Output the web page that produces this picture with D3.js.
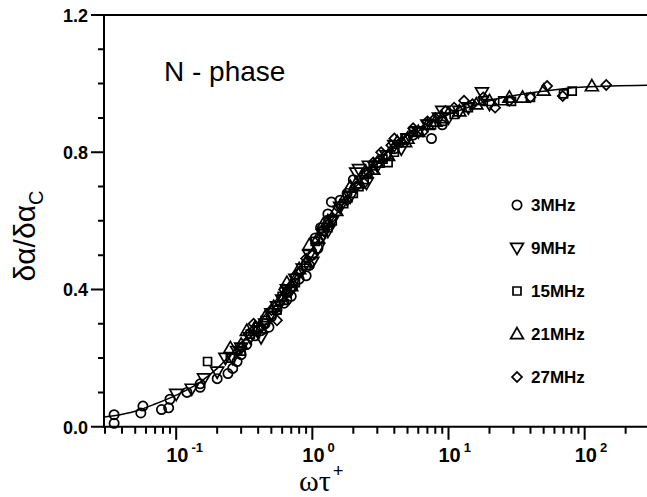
<!DOCTYPE html>
<html>
<head>
<meta charset="utf-8">
<script src="https://cdn.jsdelivr.net/npm/d3@7"></script>
<style>
  body { margin: 0; background: #fff; }
  svg { display: block; }
</style>
</head>
<body>
<svg id="chart" width="647" height="497"></svg>
<script>
// fitted curve
const curveX = [0.0295, 0.035, 0.05, 0.07, 0.1, 0.15, 0.2, 0.3, 0.4, 0.5, 0.7, 1.0, 1.5, 2.0, 3.0, 5.0, 8.0, 10, 20, 50, 100, 287];
const curveY = [0.028, 0.032, 0.045, 0.066, 0.092, 0.13, 0.17, 0.245, 0.30, 0.35, 0.43, 0.52, 0.62, 0.69, 0.77, 0.85, 0.895, 0.91, 0.95, 0.978, 0.99, 0.995];

// measured points [omega*tau, ratio]
const mhz3 = [[0.035, 0.01], [0.035, 0.035], [0.055, 0.04], [0.057, 0.06], [0.078, 0.05], [0.088, 0.055], [0.09, 0.08],
  [0.12, 0.1], [0.15, 0.115], [0.15, 0.125], [0.2, 0.14], [0.24, 0.155], [0.28, 0.19], [0.3, 0.21], [0.33, 0.24],
  [0.38, 0.265], [0.42, 0.28], [0.48, 0.29], [0.5, 0.32], [0.55, 0.34], [0.62, 0.36], [0.7, 0.38], [0.72, 0.41],
  [0.8, 0.43], [0.9, 0.44], [0.95, 0.47], [1.0, 0.5], [1.05, 0.55], [1.15, 0.58], [1.3, 0.62], [1.38, 0.655],
  [1.6, 0.66], [2.0, 0.72], [2.5, 0.74], [3.0, 0.77], [4.0, 0.81], [5.5, 0.85], [7.5, 0.84], [9.0, 0.88],
  [0.26, 0.17], [0.45, 0.3], [0.65, 0.37], [1.1, 0.52], [1.8, 0.68], [3.5, 0.79]];
const mhz9 = [[0.1, 0.095], [0.13, 0.11], [0.16, 0.14], [0.2, 0.16], [0.23, 0.2], [0.26, 0.2], [0.28, 0.22], [0.3, 0.23],
  [0.35, 0.26], [0.4, 0.28], [0.45, 0.3], [0.5, 0.33], [0.55, 0.35], [0.6, 0.37], [0.65, 0.4], [0.75, 0.43],
  [0.85, 0.46], [0.95, 0.5], [1.1, 0.52], [1.2, 0.56], [1.4, 0.6], [1.6, 0.64], [1.9, 0.67], [2.1, 0.74],
  [2.2, 0.75], [2.5, 0.71], [3.0, 0.76], [3.5, 0.79], [4.0, 0.82], [5.0, 0.84], [6.0, 0.86], [7.0, 0.88],
  [8.5, 0.9], [10, 0.9], [12, 0.92], [14, 0.93], [17.6, 0.974], [20, 0.94],
  [0.42, 0.26], [0.7, 0.4], [1.0, 0.48], [1.3, 0.57], [2.6, 0.76], [4.5, 0.81], [9, 0.92]];
const mhz15 = [[0.17, 0.19], [0.25, 0.2], [0.3, 0.22], [0.35, 0.27], [0.45, 0.31], [0.55, 0.34], [0.65, 0.39], [0.75, 0.42],
  [0.9, 0.47], [1.05, 0.54], [1.2, 0.57], [1.4, 0.6], [1.7, 0.65], [2.0, 0.68], [2.4, 0.72], [2.8, 0.76],
  [3.3, 0.78], [4.0, 0.8], [4.8, 0.84], [6.0, 0.86], [7.5, 0.88], [9.0, 0.89], [11, 0.91], [14, 0.93],
  [18, 0.95], [25, 0.95], [29, 0.948], [40, 0.96], [70, 0.97], [81, 0.978],
  [0.4, 0.29], [0.6, 0.38], [1.3, 0.58], [2.2, 0.7], [3.6, 0.77], [5.5, 0.86]];
const mhz21 = [[0.25, 0.23], [0.3, 0.24], [0.38, 0.29], [0.45, 0.32], [0.52, 0.35], [0.6, 0.37], [0.7, 0.41], [0.8, 0.46],
  [0.9, 0.48], [0.95, 0.53], [1.1, 0.55], [1.3, 0.6], [1.5, 0.63], [1.75, 0.67], [2.1, 0.71], [2.5, 0.74],
  [3.0, 0.77], [3.6, 0.79], [4.2, 0.83], [5.0, 0.84], [6.0, 0.86], [7.0, 0.88], [9.0, 0.9], [12, 0.92],
  [16, 0.94], [20, 0.95], [28, 0.96], [35, 0.96], [50, 0.98], [113, 0.993],
  [0.33, 0.28], [0.65, 0.42], [1.2, 0.59], [1.9, 0.7], [2.8, 0.75], [4.8, 0.83], [8, 0.89]];
const mhz27 = [[0.3, 0.23], [0.37, 0.3], [0.42, 0.29], [0.5, 0.34], [0.55, 0.31], [0.62, 0.4], [0.7, 0.4], [0.8, 0.45],
  [0.9, 0.49], [1.0, 0.5], [1.15, 0.55], [1.3, 0.59], [1.55, 0.64], [1.8, 0.66], [2.1, 0.7], [2.4, 0.71],
  [2.8, 0.77], [3.2, 0.8], [3.8, 0.82], [4.5, 0.83], [5.5, 0.87], [6.5, 0.86], [8.0, 0.9], [9.5, 0.92],
  [11, 0.93], [13, 0.95], [18, 0.96], [22, 0.93], [28, 0.95], [40, 0.96], [53, 0.993], [69, 0.964], [144, 0.996],
  [0.34, 0.27], [0.75, 0.44], [1.4, 0.61], [2.6, 0.74], [4.0, 0.84], [7.0, 0.89], [15, 0.94]];

const seriesNames = ['3MHz', '9MHz', '15MHz', '21MHz', '27MHz'];
const seriesData = [mhz3, mhz9, mhz15, mhz21, mhz27];
const xMajor = [0.1, 1, 10, 100];
const xMajorExp = ['-1', '0', '1', '2'];
const yMajor = [0.0, 0.4, 0.8, 1.2];

let svg = d3.select('#chart');

let x = d3.scaleLog()
  .domain([0.0295, 287])
  .range([104, 647]);

let y = d3.scaleLinear()
  .domain([0, 1.2])
  .range([426.7, 15]);

const font = 'Liberation Sans, Arial, sans-serif';

// symbol shapes
let shapes = [
  { type: d3.symbolCircle, size: 68, rot: 0 },
  { type: d3.symbolTriangle, size: 72, rot: 180 },
  { type: d3.symbolSquare, size: 64, rot: 0 },
  { type: d3.symbolTriangle, size: 72, rot: 0 },
  { type: d3.symbolSquare, size: 50, rot: 45 }
];

function drawMarker(g, i, px, py) {
  let s = shapes[i];
  let dy = (s.type === d3.symbolTriangle) ? (s.rot === 180 ? -1 : 1) : 0;
  g.append('path')
    .attr('d', d3.symbol().type(s.type).size(s.size)())
    .attr('transform', `translate(${px}, ${py + dy}) rotate(${s.rot})`)
    .attr('fill', 'none')
    .attr('stroke', '#000')
    .attr('stroke-width', 1.7);
}

function isMajor(list, d) {
  return list.some((m) => Math.abs(m - d) < 1e-9);
}

// tick values
let xTicks = d3.range(-2, 3)
  .flatMap((e) => d3.range(1, 10).map((m) => +(m * Math.pow(10, e)).toPrecision(3)))
  .filter((v) => v >= 0.0295 && v <= 287);
let yTicks = d3.range(0, 13).map((i) => i / 10);

// ticks as one path each
let y0 = y(0);
let xTickPath = xTicks.map((d) => `M${x(d)},${y0}V${y0 + (isMajor(xMajor, d) ? 13 : 7)}`).join('');
let yTickPath = yTicks.map((d) => `M${x.range()[0]},${y(d)}H${x.range()[0] - (isMajor(yMajor, d) ? 13 : 6)}`).join('');

svg.append('path')
  .attr('class', 'ticks-x')
  .attr('d', xTickPath)
  .attr('fill', 'none')
  .attr('stroke', '#000')
  .attr('stroke-width', 2);

svg.append('path')
  .attr('class', 'ticks-y')
  .attr('d', yTickPath)
  .attr('fill', 'none')
  .attr('stroke', '#000')
  .attr('stroke-width', 2);

// frame: left axis, bottom axis, top border
svg.append('path')
  .attr('d', `M647,${y(1.2)}H${x.range()[0]}V${y0}H647`)
  .attr('fill', 'none')
  .attr('stroke', '#000')
  .attr('stroke-width', 2);

// Y tick labels
svg.append('g')
  .selectAll('text')
  .data(yMajor)
  .enter().append('text')
    .attr('x', 88)
    .attr('y', (d) => y(d) + 7)
    .attr('text-anchor', 'end')
    .attr('font-family', font)
    .attr('font-weight', 'bold')
    .attr('font-size', 18)
    .text((d) => d.toFixed(1));

// X tick labels
let xLabels = svg.append('g')
  .selectAll('text')
  .data(xMajor)
  .enter().append('text')
    .attr('x', (d) => x(d) - 10)
    .attr('y', 462)
    .attr('font-family', font)
    .attr('font-weight', 'bold')
    .attr('font-size', 20);

xLabels.append('tspan').text('10');
xLabels.append('tspan')
  .attr('dx', 3)
  .attr('dy', -10)
  .attr('font-size', 13)
  .text((d, i) => xMajorExp[i]);

// axis titles
let xTitle = svg.append('text')
  .attr('x', 299)
  .attr('y', 491)
  .attr('font-family', 'Liberation Serif, Times New Roman, serif')
  .attr('font-size', 30);
xTitle.append('tspan').text('ωτ');
xTitle.append('tspan')
  .attr('dx', 2)
  .attr('dy', -14)
  .attr('font-size', 19)
  .attr('font-weight', 'bold')
  .text('+');

let yTitle = svg.append('text')
  .attr('transform', 'translate(35, 236) rotate(-90)')
  .attr('text-anchor', 'middle')
  .attr('font-family', font)
  .attr('font-size', 30);
yTitle.append('tspan').text('δα/δα');
yTitle.append('tspan')
  .attr('dy', 8)
  .attr('font-size', 20)
  .text('C');

// phase label
svg.append('text')
  .attr('x', 164)
  .attr('y', 81)
  .attr('font-family', font)
  .attr('font-size', 28)
  .text('N - phase');

// fitted curve
let line = d3.line()
  .curve(d3.curveMonotoneX)
  .x((d, i) => x(curveX[i]))
  .y((d) => y(d));

svg.append('path')
  .datum(curveY)
  .attr('fill', 'none')
  .attr('stroke', '#000')
  .attr('stroke-width', 1.5)
  .attr('d', line);

// points
let points = svg.append('g').attr('class', 'points');
seriesData.forEach((data, i) => {
  data.forEach((d) => drawMarker(points, i, x(d[0]), y(d[1])));
});

// legend
let legendY = [205, 248, 291, 334, 377];
let legend = svg.append('g').attr('class', 'legend');
seriesNames.forEach((name, i) => {
  drawMarker(legend, i, 517, legendY[i]);
  legend.append('text')
    .attr('x', 531)
    .attr('y', legendY[i] + 6)
    .attr('font-family', font)
    .attr('font-weight', 'bold')
    .attr('font-size', 17)
    .text(name);
});
</script>
</body>
</html>
